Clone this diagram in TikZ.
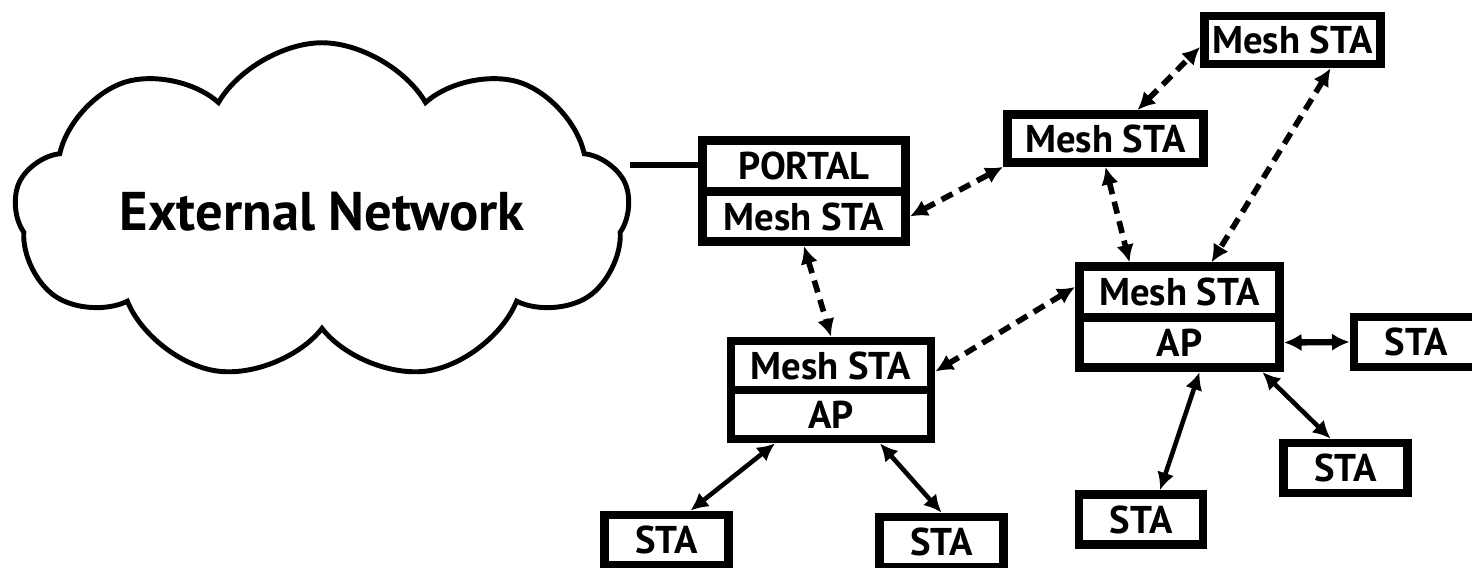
\documentclass[tikz,border=0pt]{standalone}
\usepackage{fontspec}
\setmainfont{PT Sans}
\usetikzlibrary{positioning}
\usetikzlibrary{calc}
\usetikzlibrary{shapes.symbols,arrows.meta}

\begin{document}
\begin{tikzpicture}[x=0.01cm, y=-0.01cm,
	box node/.style={shape=rectangle, draw=black, line width=2.5pt, inner sep=0, font=\bfseries\fontsize{11}{13}\selectfont, minimum height=0.48cm},
	sta node/.style={box node, minimum width=1.24cm, minimum height=0.5cm},
	mesh node/.style={box node, minimum width=1.96cm},
	half node/.style={box node, minimum width=2.0cm, minimum height=0.505cm},
	link/.style={<->, >={Latex[length=5pt,width=5pt]}, line width=1.3pt},
	mesh link/.style={link, line width=1.6pt, dash pattern=on 3.5pt off 2.2pt},
	]
		\useasboundingbox (0,0) rectangle (1472,568);
		\node[cloud, draw=black, line width=1.4pt, cloud puffs=9, cloud puff arc=120, aspect=2.6, minimum width=6.05cm, minimum height=2.4cm, font=\bfseries\fontsize{15.5}{18}\selectfont] (extnet) at (322,212) {External Network};
		%portal and mesh points
		\node[half node, minimum width=2.03cm] (portal) at (804,166) {PORTAL};
		\node[half node, minimum width=2.03cm, below=-2.5pt of portal] (portalsta) {Mesh STA};
		\node[mesh node] (msta1) at (1105.5,138.5) {Mesh STA};
		\node[mesh node, minimum width=1.76cm] (msta2) at (1292.5,40) {Mesh STA};
		\node[half node] (map1) at (1179.5,292) {Mesh STA};
		\node[half node, below=-2.5pt of map1] (ap1) {AP};
		\node[half node, minimum height=0.49cm] (map2) at (831,365.5) {Mesh STA};
		\node[half node, minimum height=0.49cm, below=-2.5pt of map2] (ap2) {AP};
		%station boxes
		\foreach \x/\y [count=\i] in {1416/342, 1345.5/468, 1141/519.5, 666.5/540, 941.5/542}
		{
			\node[sta node] (sta\i) at (\x,\y) {STA};
		}
		
		%wired link to the outside
		\coordinate (cloudedge) at (630,165);
		\draw[line width=1.8pt] (cloudedge) -- (portal.west |- cloudedge);
		
		%mesh links
		\draw[mesh link] (portalsta.east) -- (msta1.south west);
		\draw[mesh link] ($(msta1.north)+(32,0)$) -- ($(msta2.west)+(0,7)$);
		\draw[mesh link] (msta1.south) -- ($(map1.north)+(-50,0)$);
		\draw[mesh link] ($(msta2.south)+(38,0)$) -- ($(map1.north)+(32,0)$);
		\draw[mesh link] (portalsta.south) -- (map2.north);
		\draw[mesh link] ($(map1.west)+(0,-5)$) -- ($(map2.east)+(0,6)$);
		
		%station links
		\draw[link, line width=1.8pt] (ap1.east) -- (sta1.west);
		\draw[link] ($(ap1.south)+(20,0)$) -- ($(sta3.north)+(19,0)$);
		\draw[link] ($(ap1.south)+(83,0)$) -- ($(sta2.north)+(-15,0)$);
		\draw[link] ($(ap2.south)+(-56,0)$) -- ($(sta4.north)+(24,0)$);
		\draw[link] ($(ap2.south)+(49,0)$) -- (sta5.north);
\end{tikzpicture}
\end{document}
